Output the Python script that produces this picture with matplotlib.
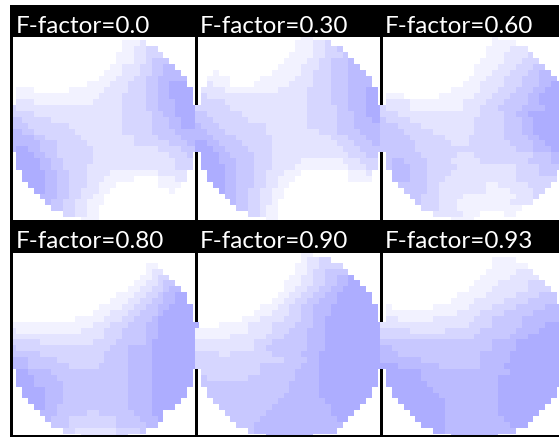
import numpy as np
import matplotlib
matplotlib.use('Agg')
import matplotlib.pyplot as plt
from matplotlib.colors import ListedColormap
from matplotlib.patches import Rectangle


# levels per cell, 32 x 32 (0 = white)
f000 = [
    "", "0000 0000 0000 0000 0001 1120", "0000 0000 0000 0000 0001 1223 3",
    "0000 0000 0000 0000 0011 1223 33", "0000 0000 0000 0000 0011 1223 444",
    "0000 0000 0000 0000 0112 2233 4455", "0000 0000 0000 0000 1112 2233 4455 5",
    "0000 0000 0000 0001 1122 2334 4555 55", "0000 0000 0000 0111 1222 3334 4556 66",
    "0111 0000 0011 1111 2222 3334 4556 666", "0111 1111 1111 1112 2223 3334 4556 666",
    "0222 1111 1111 1122 2223 3334 4555 666", "3222 2222 2222 2222 2223 3334 4555 6666",
    "3333 2222 2222 2222 2223 3333 4455 6666", "4433 3332 2222 2222 2223 3333 4445 5666",
    "4443 3333 3322 2222 2223 3333 4445 5666", "5544 3333 3332 2222 2223 3333 4444 5555",
    "5555 4433 3333 2222 2222 2333 3444 4555", "5555 5444 3333 3222 2222 2333 3334 4455",
    "5665 5444 3333 3322 2222 2222 2333 3444", "0666 5544 3333 3322 2222 2222 2223 334",
    "0666 6554 4333 3322 2222 2222 2222 333", "0666 6554 4333 3222 2222 2222 2222 333",
    "0066 6655 4433 3222 2111 1111 1222 22", "0066 6655 4433 3222 1111 1000 0111 22",
    "0006 6655 4433 3221 1100 0000 0111 1", "0000 6655 4433 2221 1000 0000 0001",
    "0000 0555 4433 2211", "0000 0054 4332 2111", "0000 0004 4332 211",
    "0000 0000 0332 211", "0000 0000 0000 111",
]
f030 = [
    "0000 0000 0000 0000 0011", "0000 0000 0000 0000 0111 2230",
    "0000 0000 0000 0000 0111 2233 4", "0000 0000 0000 0000 1111 2233 34",
    "0000 0000 0000 0001 1112 2334 445", "0000 0000 0000 0011 1122 2334 4455",
    "0001 0000 0000 0111 1122 3334 4455 5", "0011 1100 0001 1111 1222 3334 4455 55",
    "0021 1100 0011 1111 2222 3334 4455 55", "0222 2111 1111 1122 2223 3334 4455 566",
    "0322 2222 2222 2222 2223 3334 4455 566", "0333 3222 2222 2222 2223 3334 4455 566",
    "3333 3322 2222 2222 2223 3333 4455 5666", "4433 3333 2222 2222 2223 3333 4445 5666",
    "4443 3333 3222 2222 2223 3333 4445 5566", "5444 3333 3333 2222 2223 3333 4445 5555",
    "5544 4333 3333 2222 2222 2333 4444 5555", "5554 4443 3333 3222 2222 2223 3344 4555",
    "6655 4444 3333 3222 2222 2222 3334 4455", "6665 5444 4333 3222 2222 2222 2333 4444",
    "0666 5544 4433 3222 2222 2222 2233 344", "0666 5554 4433 3222 2211 1111 1222 333",
    "0666 6554 4433 3222 2111 1111 1122 233", "0066 6554 4433 2221 1100 0000 0011 12",
    "0066 6554 4433 2211 1000 0000 0011 11", "0006 6554 4433 2211",
    "0000 6554 4332 211", "0000 0554 4332 211", "0000 0054 4332 21",
    "0000 0004 4332 11", "0000 0000 0332 11", "0000 0000 0000 11",
]
f060 = [
    "0000 0000 0000 0000 0001", "0000 0000 0000 0000 0001 1110",
    "0000 0000 0000 0000 0011 1122 2", "0000 0000 0000 0000 0011 1222 23",
    "0000 0000 0000 0000 0111 1222 333", "0000 0000 0000 0000 1111 2223 3344",
    "0000 0000 0000 0000 1112 2233 3445 5", "0000 0000 0000 0001 1122 2333 4445 55",
    "0000 0000 0000 0011 1222 2333 4445 566", "0000 0000 0000 1111 1222 3334 4455 666",
    "0111 0000 0011 1111 2223 3344 4556 666", "0222 2111 1111 1122 2233 3444 4556 666",
    "3222 2111 1111 1122 2333 4444 5555 6666", "3332 2222 2222 2222 2333 3445 5666 6666",
    "4333 3222 2222 2222 3333 3444 5566 6666", "4443 3332 2222 2222 3333 3444 5566 6666",
    "4444 3333 3222 2222 3333 3444 5566 6666", "4444 4333 3332 2223 3333 3444 4556 6666",
    "4444 4433 3333 2223 3333 3344 4455 6666", "4444 4433 3333 3333 3333 3334 4455 5666",
    "0444 4443 3333 3222 3333 3333 3344 455", "0455 4444 3333 2222 2333 3333 3444 455",
    "0455 5444 3333 3222 2222 2223 3334 444", "0055 5444 3333 2222 2222 2223 3334 44",
    "0055 5444 3332 2222 2222 2223 3333 33", "0004 4444 3322 2222 2211 2222 2333 3",
    "0000 4444 3322 2222 2211 1122 2233", "0000 0443 3322 2211 1111 1112 223",
    "0000 0043 3322 2111 1111 1122 22", "0000 0003 3322 2111 1111 1111",
    "0000 0000 0222 2211 1000 011", "0000 0000 0000 1111",
]
f080 = [
    "", "", "0000 0000 0000 0000 0000 0001 1", "0000 0000 0000 0000 0000 0001 22",
    "0000 0000 0000 0000 0000 0011 233", "0000 0000 0000 0000 0000 0112 2344",
    "0000 0000 0000 0000 0000 1122 3345 5", "0000 0000 0000 0000 0011 1223 3455 66",
    "0000 0000 0000 0000 0111 2233 4455 66", "0000 0000 0000 0001 1112 2334 4556 666",
    "0000 0000 0000 0011 1222 3344 4566 666", "0000 0000 0001 1111 2223 3444 5666 666",
    "1111 1111 1111 1122 2333 4445 5666 6666", "2111 1111 1111 2222 3334 4445 5666 6666",
    "2222 2222 2222 2222 3334 4445 5666 6666", "3333 3222 2222 2233 3344 4445 6666 6666",
    "4333 3333 3333 3333 3444 5555 6666 6666", "4444 4333 3333 3333 4444 5555 6666 6666",
    "5554 4444 3333 3333 4444 5555 6666 6666", "5554 4444 4433 3334 4444 5555 6666 6666",
    "0665 5554 4444 4444 4444 5555 6666 666", "0666 5555 4444 4444 4444 5555 6666 666",
    "0666 5555 5444 4444 4444 5555 6666 666", "0066 6655 5444 4444 4444 5555 6666 66",
    "0066 6655 5444 4444 4444 5555 6666 66", "0006 6655 5444 4444 4444 5555 6666 6",
    "0000 6655 4444 4444 4444 5555 6666", "0000 0555 4444 4334 4444 4555 66",
    "0000 0054 4433 3333 3344 4455 56", "0000 0004 4433 3333 3344 4445 5",
    "0000 0000 0332 2222 2233 334", "0000 0000 0000 2222 2233",
]
f090 = [
    "0000 0000 0000 0000 0011", "0000 0000 0000 0000 0012 2330",
    "0000 0000 0000 0000 0112 2333 3", "0000 0000 0000 0000 0112 3344 44",
    "0000 0000 0000 0000 1122 3344 556", "0000 0000 0000 0001 1122 3344 5566",
    "0000 0000 0000 0001 1223 3445 5666 6", "0000 0000 0000 0011 2233 4455 6666 66",
    "0000 0000 0000 0112 2334 4555 6666 66", "0000 0000 0001 1122 3344 5556 6666 666",
    "0000 0000 0011 1222 3344 5556 6666 666", "0000 0000 1112 2223 3344 5566 6666 666",
    "0000 1111 1222 2333 3444 5566 6666 6666", "1111 1111 1222 2333 4445 5566 6666 6666",
    "1111 1122 2222 3334 4445 5566 6666 6666", "2222 2222 2233 3444 4445 5566 6666 6666",
    "2222 2222 2233 4444 4445 5566 6666 6666", "3333 2233 3333 3444 4455 5666 6666 6666",
    "3333 3333 3333 3334 4445 5666 6666 6666", "3333 3333 3334 4444 4455 5666 6666 6666",
    "0333 3333 3334 4444 4555 5666 6666 666", "0433 3333 3444 4444 4555 5666 6666 666",
    "0444 4444 4444 4444 5555 5666 6666 666", "0044 4444 4444 4444 5555 5666 6666 66",
    "0044 4444 4444 4445 5555 5666 6666 66", "0004 4444 4444 4455 5555 5566 6666 6",
    "0000 4444 4444 4555 5555 5556 6666", "0000 0444 4444 5555 5555 5556 666",
    "0000 0044 4445 5555 5555 5555 66", "0000 0004 4455 5555 5555 5555 5",
    "0000 0000 0455 5555 5555 5555", "0000 0000 0000 5555 5555",
]
f093 = [
    "", "0000 0000 0000 0000 0001 1110", "0000 0000 0000 0000 0001 1111 1",
    "0000 0000 0000 0000 0011 1112 22", "0000 0000 0000 0000 0111 1122 222",
    "0000 0000 0000 0000 1111 2222 2333", "0000 0000 0000 0001 1112 2222 2333 3",
    "0000 0000 0000 0111 1122 2223 3334 44", "0000 0000 0000 1111 2222 2333 3444 44",
    "0100 0000 0111 1112 2223 3334 4444 555", "0111 1111 1111 1222 2333 3444 4455 555",
    "0221 1111 1222 2222 3334 4444 5555 555", "2222 2222 2222 2223 3334 4444 5555 6666",
    "3333 3222 2223 3333 3444 4445 5556 6666", "3333 3333 3333 3333 4444 4455 5666 6666",
    "4444 4444 4444 4444 4445 5556 6666 6666", "5544 4444 4444 4444 4445 5556 6666 6666",
    "5554 4444 4444 4444 4555 5566 6666 6666", "5555 5554 4444 4444 4555 5566 6666 6666",
    "6665 5555 5544 4444 4555 5666 6666 6666", "0666 6665 5555 5555 5555 5566 6666 666",
    "0666 6665 5555 5555 5555 6666 6666 666", "0666 6666 5555 5555 5555 6666 6666 666",
    "0066 6666 6555 5555 5555 6666 6666 66", "0066 6666 6655 5555 5555 6666 6666 66",
    "0006 6666 6665 5555 5555 6666 6666 6", "0000 6666 6665 5555 5555 6666 6666",
    "0000 0666 6665 5555 5555 6666 666", "0000 0066 6665 5555 5555 5666 66",
    "0000 0006 6665 5555 5555 5566 6", "0000 0000 0665 5555 5555 555",
    "0000 0000 0000 5555 5555",
]
grids = [f000, f030, f060, f080, f090, f093]
titles = ['F-factor=0.0', 'F-factor=0.30', 'F-factor=0.60',
          'F-factor=0.80', 'F-factor=0.90', 'F-factor=0.93']
colors = ['#f2f2ff', '#e4e4ff', '#d6d6ff', '#c8c8ff', '#bbbbff', '#adadff']

W, H = 559, 437
step = 5.9
size = 32 * step
grid_x = [10, 195, 380]
grid_y = [34.2, 250.9]
panel_x = [(12.7, 195), (198, 380), (383, 559)]
panel_y = [(36.7, 220), (253, 435)]
text_x = [16, 200, 385]
text_y = [33, 248.5]

cmap = ListedColormap(colors)

fig = plt.figure(figsize=(W / 100, H / 100), dpi=100, facecolor='white')


def px_rect(x0, y0, x1, y1, color):
    fig.patches.append(Rectangle((x0 / W, 1 - y1 / H), (x1 - x0) / W, (y1 - y0) / H,
                                 transform=fig.transFigure, color=color, lw=0))


px_rect(10, 4.5, W, H, 'black')

for i, rows in enumerate(grids):
    col, row = i % 3, i // 3
    x0, x1 = panel_x[col]
    y0, y1 = panel_y[row]
    px_rect(x0, y0, x1, y1, 'white')

    ax = fig.add_axes([grid_x[col] / W, 1 - (grid_y[row] + size) / H, size / W, size / H],
                      zorder=2 + i)
    ax.set_xlim(0, 32)
    ax.set_ylim(32, 0)
    ax.axis('off')

    vals = np.array([list(r.replace(' ', '').ljust(32, '0')) for r in rows], dtype=int)
    mesh = ax.pcolormesh(np.ma.masked_equal(vals, 0), cmap=cmap, vmin=0.5, vmax=6.5)

    # circle runs over the black separators left and right, not over the title bars
    left = (x0 - grid_x[col]) / step if col == 0 else -2
    top = (y0 - grid_y[row]) / step
    bottom = (y1 - grid_y[row]) / step
    mesh.set_clip_path(Rectangle((left, top), 36, bottom - top, transform=ax.transData))

    fig.text(text_x[col] / W, 1 - text_y[row] / H, titles[i], color='white', fontsize=17.5,
             family=['Lato', 'DejaVu Sans'], weight='normal',
             ha='left', va='baseline', zorder=20)

fig.savefig('out.png', dpi=100)
